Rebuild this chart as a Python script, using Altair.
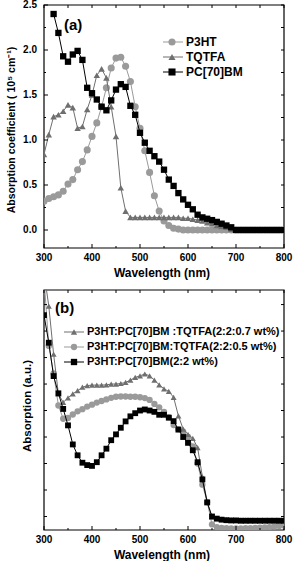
import altair as alt
import pandas as pd

# ---------------- panel (a): single-component absorption coefficients ----------------
wl_a = list(range(300, 801, 10))
p3ht = [0.32, 0.35, 0.37, 0.39, 0.43, 0.51, 0.56, 0.67, 0.76, 0.89,
        1.04, 1.19, 1.37, 1.58, 1.80, 1.91, 1.92, 1.82, 1.65, 1.37,
        1.13, 0.88, 0.64, 0.38, 0.21, 0.10, 0.05, 0.02, 0.01, 0.0,
        0.0, 0.0, 0.0, 0.0, 0.0, 0.0, 0.0, 0.0, 0.0, 0.0,
        0.0, 0.0, 0.0, 0.0, 0.0, 0.0, 0.0, 0.0, 0.0, 0.0, 0.0]
tqtfa = [0.84, 1.06, 1.26, 1.28, 1.32, 1.39, 1.36, 1.13, 1.15, 1.34,
         1.50, 1.72, 1.79, 1.69, 1.37, 1.04, 0.47, 0.21, 0.14, 0.14,
         0.14, 0.14, 0.14, 0.14, 0.14, 0.14, 0.14, 0.14, 0.14, 0.13,
         0.13, 0.12, 0.11, 0.10, 0.08, 0.07, 0.05, 0.04, 0.03, 0.01,
         0.0, 0.0, 0.0, 0.0, 0.0, 0.0, 0.0, 0.0, 0.0, 0.0, 0.0]
wl_pcbm = list(range(320, 801, 10))
pc70bm = [2.40, 2.19, 1.93, 1.87, 1.95, 1.99, 1.89, 1.58, 1.52, 1.45,
          1.37, 1.33, 1.44, 1.56, 1.62, 1.59, 1.38, 1.28, 1.08, 0.97,
          0.88, 0.82, 0.76, 0.67, 0.56, 0.49, 0.41, 0.34, 0.28, 0.23,
          0.17, 0.14, 0.125, 0.11, 0.09, 0.07, 0.05, 0.03, 0.0, 0.0,
          0.0, 0.0, 0.0, 0.0, 0.0, 0.0, 0.0, 0.0, 0.0]
names_a = ["P3HT", "TQTFA", "PC[70]BM"]

# ---------------- panel (b): blend films ----------------
wl_b = list(range(300, 801, 10))
blend_07 = [9.2, 7.94, 6.13, 4.63, 4.31, 4.48, 4.63, 4.75, 4.88, 4.94,
            4.96, 4.96, 4.96, 4.97, 5.0, 5.0, 5.02, 5.06, 5.15, 5.25,
            5.31, 5.38, 5.31, 5.15, 4.97, 4.82, 4.72, 4.5, 3.8, 3.3,
            3.1, 2.95, 2.6, 1.5, 0.55, -0.02, -0.08, -0.1, -0.12, -0.13,
            -0.13, -0.14, -0.14, -0.14, -0.15, -0.15, -0.15, -0.15, -0.15, -0.15, -0.15]
blend_05 = [9.0, 6.44, 5.4, 4.19, 3.69, 3.72, 3.85, 3.97, 4.05, 4.15,
            4.22, 4.3, 4.36, 4.42, 4.48, 4.52, 4.53, 4.53, 4.52, 4.52,
            4.5, 4.47, 4.4, 4.25, 4.12, 3.95, 3.75, 3.45, 3.3, 3.2,
            3.0, 2.65, 2.0, 1.2, 0.55, -0.3, -0.4, -0.43, -0.44, -0.45,
            -0.45, -0.45, -0.44, -0.44, -0.43, -0.42, -0.41, -0.4, -0.38, -0.36, -0.34]
blend_00 = [7.6, 6.56, 5.3, 4.65, 4.06, 3.44, 2.72, 2.31, 2.03, 1.94,
            1.91, 2.05, 2.31, 2.56, 2.88, 3.1, 3.35, 3.59, 3.78, 3.9,
            4.0, 4.04, 4.0, 3.95, 3.84, 3.84, 3.73, 3.6, 3.28, 3.0,
            2.78, 2.5, 2.05, 1.4, 0.53, 0.0, -0.08, -0.12, -0.14, -0.15,
            -0.15, -0.16, -0.16, -0.16, -0.16, -0.16, -0.16, -0.16, -0.16, -0.16, -0.16]
names_b = ["P3HT:PC[70]BM :TQTFA(2:2:0.7 wt%)",
           "P3HT:PC[70]BM:TQTFA(2:2:0.5 wt%)",
           "P3HT:PC[70]BM(2:2 wt%)"]

# axis ranges, tick positions and tick labels
xdom = [300, 800]
ydom_a = [-0.2, 2.5]
ydom_b = [-0.51, 8.55]
x_major = [300, 400, 500, 600, 700, 800]
x_minor = [350, 450, 550, 650, 750]
ya_major = [0.0, 0.5, 1.0, 1.5, 2.0, 2.5]
ya_minor = [0.25, 0.75, 1.25, 1.75, 2.25]
yb_ticks = [0, 1, 2, 3, 4, 5, 6, 7, 8]
x_labels = [str(v) for v in x_major]
ya_labels = [f"{v:.1f}" for v in ya_major]
x_title = "Wavelength (nm)"
ya_title = "Absorption coefficient ( 10\u2075 cm\u207b\u00b9)"
yb_title = "Absorption (a.u.)"

GRAY_LIGHT = "#9a9a9a"
GRAY_DARK = "#6f6f6f"
BLACK = "#000000"
FONT = "Liberation Sans"

PW, PH = 240, 243  # plot area of each panel
ONE = pd.DataFrame({"k": [0]})


class Panel:
    """Shared scales for every layer of one panel; axes are drawn as marks."""

    def __init__(self, xd, yd, h):
        self.h = h
        self.xs = alt.Scale(domain=xd, nice=False, zero=False)
        self.ys = alt.Scale(domain=yd, nice=False, zero=False)

    def X(self, f):
        return alt.X(f, scale=self.xs, axis=None)

    def Y(self, f):
        return alt.Y(f, scale=self.ys, axis=None)

    def box(self):
        return alt.Chart(ONE).mark_rect(filled=False, stroke="black", strokeWidth=1.2).encode(
            x=alt.value(0), x2=alt.value(PW), y=alt.value(0), y2=alt.value(self.h))

    def series(self, wl, vals, color, shape, size):
        df = pd.DataFrame({"wl": wl, "v": vals})
        line = alt.Chart(df).mark_line(color=color, strokeWidth=1, clip=True).encode(
            x=self.X("wl:Q"), y=self.Y("v:Q"))
        pts = alt.Chart(df).mark_point(shape=shape, filled=True, color=color, size=size,
                                       opacity=1, clip=True).encode(
            x=self.X("wl:Q"), y=self.Y("v:Q"))
        return [line, pts]

    def xticks(self, values, length, top=False):
        df = pd.DataFrame({"t": values})
        y0, y1 = (0, length) if top else (self.h - length, self.h)
        return alt.Chart(df).mark_rule(color="black", strokeWidth=1).encode(
            x=self.X("t:Q"), y=alt.value(y0), y2=alt.value(y1))

    def yticks(self, values, length, right=False):
        df = pd.DataFrame({"t": values})
        x0, x1 = (PW - length, PW) if right else (0, length)
        return alt.Chart(df).mark_rule(color="black", strokeWidth=1).encode(
            y=self.Y("t:Q"), x=alt.value(x0), x2=alt.value(x1))

    def xlabels(self, values, labels):
        df = pd.DataFrame({"t": values, "lab": labels})
        return alt.Chart(df).mark_text(align="center", baseline="top", font=FONT,
                                       fontWeight="bold", fontSize=10, color="black").encode(
            x=self.X("t:Q"), y=alt.value(self.h + 5), text="lab:N")

    def ylabels(self, values, labels):
        df = pd.DataFrame({"t": values, "lab": labels})
        return alt.Chart(df).mark_text(align="right", baseline="middle", font=FONT,
                                       fontWeight="bold", fontSize=10, color="black").encode(
            y=self.Y("t:Q"), x=alt.value(-7), text="lab:N")

    def titles(self, xt, yt, yx, yy, ysize):
        a = alt.Chart(ONE).mark_text(align="center", baseline="middle", font=FONT,
                                     fontWeight="bold", fontSize=12, color="black").encode(
            x=alt.value(118), y=alt.value(self.h + 25), text=alt.value(xt))
        b = alt.Chart(ONE).mark_text(align="center", baseline="middle", font=FONT,
                                     fontWeight="bold", fontSize=ysize, color="black",
                                     angle=270).encode(
            x=alt.value(yx), y=alt.value(yy), text=alt.value(yt))
        return [a, b]


def legend_layers(entries, x0, x1, xm, xt, ys, fsize, msize):
    out = []
    for (label, color, shape), yy in zip(entries, ys):
        out.append(alt.Chart(ONE).mark_rule(color=color, strokeWidth=1).encode(
            x=alt.value(x0), x2=alt.value(x1), y=alt.value(yy)))
        out.append(alt.Chart(ONE).mark_point(shape=shape, filled=True, color=color,
                                             size=msize, opacity=1).encode(
            x=alt.value(xm), y=alt.value(yy)))
        out.append(alt.Chart(ONE).mark_text(align="left", baseline="middle", font=FONT,
                                            fontWeight="bold", fontSize=fsize,
                                            color="black").encode(
            x=alt.value(xt), y=alt.value(yy), text=alt.value(label)))
    return out


def tag(text, x, y):
    return alt.Chart(ONE).mark_text(align="left", baseline="middle", font=FONT,
                                    fontWeight="bold", fontSize=15).encode(
        x=alt.value(x), y=alt.value(y), text=alt.value(text))


# ----- panel (a)
pa = Panel(xdom, ydom_a, PH)
layers_a = [pa.box()]
layers_a += pa.series(wl_a, p3ht, GRAY_LIGHT, "circle", 50)
layers_a += pa.series(wl_a, tqtfa, GRAY_DARK, "triangle-up", 42)
layers_a += pa.series(wl_pcbm, pc70bm, BLACK, "square", 40)
layers_a += [pa.xticks(x_major, 4), pa.xticks(x_minor, 2),
             pa.xticks(x_major + x_minor, 3, top=True),
             pa.yticks(ya_major, 4), pa.yticks(ya_minor, 2),
             pa.yticks(ya_major + ya_minor, 3, right=True),
             pa.xlabels(x_major, x_labels), pa.ylabels(ya_major, ya_labels)]
layers_a += pa.titles(x_title, ya_title, -32, 125, 10.5)
layers_a += legend_layers(
    [(names_a[0], GRAY_LIGHT, "circle"), (names_a[1], GRAY_DARK, "triangle-up"),
     (names_a[2], BLACK, "square")],
    119, 139, 128, 142, [37, 52, 67], 12, 50)
layers_a.append(tag("(a)", 20, 20))

panel_a = alt.layer(*layers_a).properties(width=PW, height=PH)

# ----- panel (b)
PHB = 240
pb = Panel(xdom, ydom_b, PHB)
layers_b = [pb.box()]
layers_b += pb.series(wl_b, blend_05, GRAY_LIGHT, "circle", 40)
layers_b += pb.series(wl_b, blend_07, GRAY_DARK, "triangle-up", 36)
layers_b += pb.series(wl_b, blend_00, BLACK, "square", 34)
layers_b += [pb.xticks(x_major, 4), pb.xticks(x_minor, 2),
             pb.xticks(x_major + x_minor, 3, top=True),
             pb.yticks(yb_ticks, 3), pb.yticks(yb_ticks, 3, right=True),
             pb.xlabels(x_major, x_labels)]
layers_b += pb.titles(x_title, yb_title, -16, 116, 11.5)
layers_b += legend_layers(
    [(names_b[0], GRAY_DARK, "triangle-up"), (names_b[1], GRAY_LIGHT, "circle"),
     (names_b[2], BLACK, "square")],
    20, 40, 30, 43, [42, 57, 72], 11, 40)
layers_b.append(tag("(b)", 11, 18))

panel_b = alt.layer(*layers_b).properties(width=PW, height=PHB)

chart = alt.vconcat(panel_a, panel_b, spacing=10).properties(
    padding={"left": 6, "top": 0, "right": 0, "bottom": 0},
    background="white",
).configure_view(stroke=None)

chart.save("out.html", embed_options={"renderer": "svg", "actions": False})
